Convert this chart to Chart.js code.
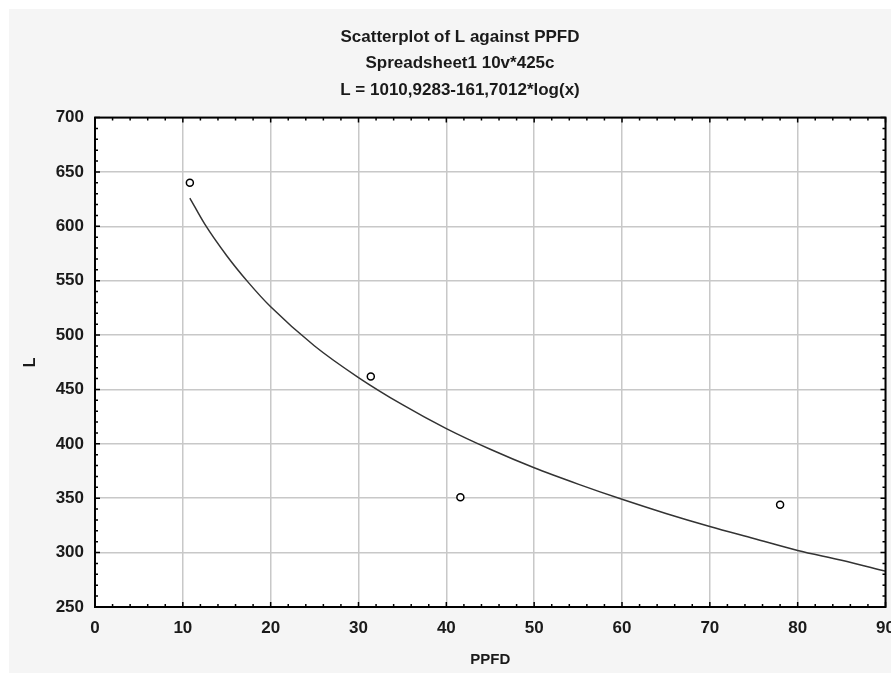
<!DOCTYPE html>
<html>
<head>
<meta charset="utf-8">
<script src="https://cdn.jsdelivr.net/npm/chart.js@4/dist/chart.umd.min.js"></script>
<style>
  html, body { margin: 0; padding: 0; background: #fff; }
  #wrap { width: 891px; height: 673px; }
</style>
</head>
<body>
<div id="wrap"><canvas id="plot"></canvas></div>
<script>
// observed points
const ppfd = [10.8, 31.4, 41.6, 78.0];
const lValues = [640, 462, 351, 344];

// fitted curve
const fitX = [10.8, 12.5, 15, 17.5, 20, 25, 30, 35, 40, 45, 50, 55, 60, 65, 70, 75, 80, 85, 90];
const fitY = [626, 602, 573, 548, 526, 490, 461, 436, 414, 395, 378, 363, 349, 336, 324, 313, 302, 293, 283];

const xTicks = [0, 10, 20, 30, 40, 50, 60, 70, 80, 90];
const yTicks = [250, 300, 350, 400, 450, 500, 550, 600, 650, 700];

const titleLines = [
  'Scatterplot of L against PPFD',
  'Spreadsheet1 10v*425c',
  'L = 1010,9283-161,7012*log(x)'
];

const font = 'Arial, "Liberation Sans", sans-serif';

const panelBg = {
  id: 'panelBg',
  beforeDraw(chart) {
    const { ctx, chartArea: a, width, height } = chart;
    ctx.save();
    ctx.fillStyle = '#ffffff';
    ctx.fillRect(0, 0, width, height);
    ctx.fillStyle = '#f5f5f5';
    ctx.fillRect(9, 9, width - 9, height - 9);
    ctx.fillStyle = '#ffffff';
    ctx.fillRect(a.left, a.top, a.right - a.left, a.bottom - a.top);
    ctx.restore();
  }
};

// box frame with small inward ticks on all four sides
const frameTicks = {
  id: 'frameTicks',
  afterDatasetsDraw(chart) {
    const { ctx, chartArea: a, scales: { x, y } } = chart;
    ctx.save();
    ctx.strokeStyle = '#000';
    ctx.lineWidth = 1.5;
    ctx.beginPath();
    for (let v = xTicks[0]; v <= xTicks[xTicks.length - 1]; v += 2) {
      const px = x.getPixelForValue(v);
      const len = v % 10 === 0 ? 5 : 3;
      ctx.moveTo(px, a.bottom); ctx.lineTo(px, a.bottom - len);
      ctx.moveTo(px, a.top); ctx.lineTo(px, a.top + len);
    }
    for (let v = yTicks[0]; v <= yTicks[yTicks.length - 1]; v += 10) {
      const py = y.getPixelForValue(v);
      const len = v % 50 === 0 ? 5 : 3;
      ctx.moveTo(a.left, py); ctx.lineTo(a.left + len, py);
      ctx.moveTo(a.right, py); ctx.lineTo(a.right - len, py);
    }
    ctx.stroke();
    ctx.lineWidth = 2;
    ctx.strokeRect(a.left, a.top, a.right - a.left, a.bottom - a.top);
    ctx.restore();
  }
};

new Chart(document.getElementById('plot'), {
  type: 'scatter',
  data: {
    datasets: [
      {
        type: 'line',
        label: 'fit',
        data: fitX.map((v, i) => ({ x: v, y: fitY[i] })),
        borderColor: '#333',
        borderWidth: 1.5,
        pointRadius: 0,
        cubicInterpolationMode: 'monotone',
        fill: false,
        order: 2
      },
      {
        label: 'L',
        data: ppfd.map((v, i) => ({ x: v, y: lValues[i] })),
        pointStyle: 'circle',
        pointRadius: 3.5,
        pointBorderWidth: 1.5,
        pointBorderColor: '#000',
        pointBackgroundColor: '#fff',
        order: 1
      }
    ]
  },
  options: {
    responsive: true,
    maintainAspectRatio: false,
    animation: false,
    layout: { padding: { top: 24, left: 34, right: 5, bottom: 0 } },
    plugins: {
      legend: { display: false },
      tooltip: { enabled: false },
      title: {
        display: true,
        text: titleLines,
        color: '#1a1a1a',
        font: { family: font, size: 17, weight: 'bold', lineHeight: 1.56 },
        padding: { top: 0, bottom: 14 }
      }
    },
    scales: {
      x: {
        type: 'linear',
        min: xTicks[0],
        max: xTicks[xTicks.length - 1],
        afterBuildTicks: s => { s.ticks = xTicks.map(v => ({ value: v })); },
        afterFit: s => { s.paddingRight = 0; s.paddingLeft = 0; s.height = 66; },
        grid: { color: '#c8c8c8', lineWidth: 1.5, drawTicks: false },
        border: { display: false },
        ticks: { color: '#1a1a1a', padding: 11, maxRotation: 0, font: { family: font, size: 17, weight: 'bold' } },
        title: {
          display: true, text: 'PPFD', color: '#1a1a1a',
          font: { family: font, size: 15, weight: 'bold' }, padding: { top: 0, bottom: 4 }
        }
      },
      y: {
        type: 'linear',
        min: yTicks[0],
        max: yTicks[yTicks.length - 1],
        afterBuildTicks: s => { s.ticks = yTicks.map(v => ({ value: v })); },
        afterFit: s => { s.width = 61; },
        grid: { color: '#c8c8c8', lineWidth: 1.5, drawTicks: false },
        border: { display: false },
        ticks: { color: '#1a1a1a', padding: 11, font: { family: font, size: 17, weight: 'bold' } },
        title: {
          display: true, text: 'L', color: '#1a1a1a',
          font: { family: font, size: 16, weight: 'bold' }, padding: { top: -13, bottom: 0 }
        }
      }
    }
  },
  plugins: [panelBg, frameTicks]
});
</script>
</body>
</html>
